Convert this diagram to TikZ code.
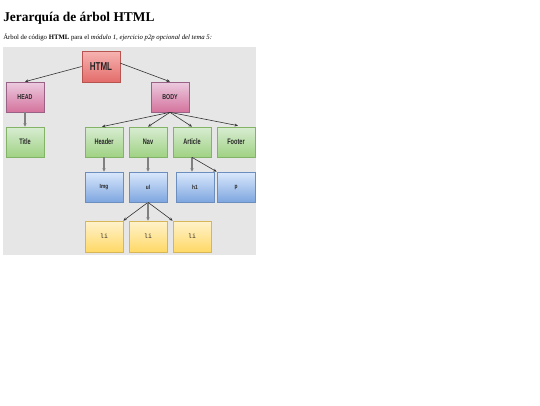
\documentclass[tikz,border=0pt]{standalone}
\usepackage{fontspec}
\setmainfont{Liberation Serif}
\setsansfont{Liberation Sans}
\setmonofont{Liberation Mono}
\usetikzlibrary{arrows.meta,calc}
\definecolor{bggray}{HTML}{E6E6E6}
\definecolor{redT}{HTML}{F6B4B2}\definecolor{redB}{HTML}{E36C6A}\definecolor{redD}{HTML}{B85450}
\definecolor{pinkT}{HTML}{EBCBDF}\definecolor{pinkB}{HTML}{D5739D}\definecolor{pinkD}{HTML}{996185}
\definecolor{grnT}{HTML}{D8ECD2}\definecolor{grnB}{HTML}{9FD283}\definecolor{grnD}{HTML}{82B366}
\definecolor{bluT}{HTML}{DAE8FC}\definecolor{bluB}{HTML}{7EA6E0}\definecolor{bluD}{HTML}{6C8EBF}
\definecolor{ylwT}{HTML}{FFF2CC}\definecolor{ylwB}{HTML}{FFD966}\definecolor{ylwD}{HTML}{D6B656}
\newcommand{\nlbl}[3]{\scalebox{#2}[1]{\fontsize{#1}{#1}\selectfont\sffamily\bfseries #3}}
\begin{document}
\begin{tikzpicture}[x=0.75pt,y=-0.75pt,
  boxbase/.style={draw, line width=0.5pt, inner sep=0pt, minimum width=28.5pt, minimum height=22.5pt, text=black!85},
  redbox/.style={boxbase, top color=redT, bottom color=redB, draw=redD, minimum height=23.25pt},
  pinkbox/.style={boxbase, top color=pinkT, bottom color=pinkB, draw=pinkD},
  grnbox/.style={boxbase, top color=grnT, bottom color=grnB, draw=grnD},
  blubox/.style={boxbase, top color=bluT, bottom color=bluB, draw=bluD},
  ylwbox/.style={boxbase, top color=ylwT, bottom color=ylwB, draw=ylwD, minimum height=23.25pt},
  darrow/.style={draw=black!80, line width=0.45pt, -{Stealth[length=2.6pt,width=2.2pt]}},
  garrow/.style={draw=black!50, line width=0.9pt, -{Stealth[length=2.6pt,width=2.6pt]}}]
\useasboundingbox (0,0) rectangle (540,405);
\fill[white] (0,0) rectangle (540,405);
\node[anchor=base west, inner sep=0pt, font=\fontsize{10.05pt}{12pt}\selectfont\bfseries] (heading) at (3,21.5) {Jerarquía de árbol HTML};
\node[anchor=base west, inner sep=0pt, font=\fontsize{5.06pt}{6pt}\selectfont] (intro) at (3,39) {Árbol de código \textbf{HTML} para el \textit{módulo 1, ejercicio p2p opcional del tema 5:}};
\fill[bggray] (3,47) rectangle (256,255);
% nodes
\node[redbox] (html) at (101,66.5) {\nlbl{8.6pt}{0.7}{HTML}};
\node[pinkbox] (head) at (25,97) {\nlbl{5.3pt}{0.75}{HEAD}};
\node[pinkbox] (body) at (170,97) {\nlbl{5.3pt}{0.75}{BODY}};
\node[grnbox] (title) at (25,142) {\nlbl{6pt}{0.7}{Title}};
\node[grnbox] (header) at (104,142) {\nlbl{6pt}{0.7}{Header}};
\node[grnbox] (nav) at (148,142) {\nlbl{6pt}{0.7}{Nav}};
\node[grnbox] (article) at (192,142) {\nlbl{6pt}{0.7}{Article}};
\node[grnbox] (footer) at (236,142) {\nlbl{6pt}{0.7}{Footer}};
\node[blubox] (img) at (104,187) {\nlbl{4.5pt}{0.8}{Img}};
\node[blubox] (ul) at (148,187) {\nlbl{4.5pt}{0.8}{ul}};
\node[blubox] (hone) at (195,187) {\nlbl{4.5pt}{0.8}{h1}};
\node[blubox] (p) at (236,187) {\nlbl{4.5pt}{0.8}{p}};
\node[ylwbox] (lia) at (104,236.5) {\fontsize{4.8pt}{5pt}\selectfont\ttfamily li};
\node[ylwbox] (lib) at (148,236.5) {\fontsize{4.8pt}{5pt}\selectfont\ttfamily li};
\node[ylwbox] (lic) at (192,236.5) {\fontsize{4.8pt}{5pt}\selectfont\ttfamily li};
% connectors
\draw[darrow] (html.west) -- (head.north);
\draw[darrow] ([yshift=2.5pt]html.east) -- (body.north);
\draw[garrow] (head.south) -- (title.north);
\draw[darrow] (body.south) -- ([xshift=-1.5pt]header.north);
\draw[darrow] (body.south) -- (nav.north);
\draw[darrow] (body.south) -- (article.north);
\draw[darrow] (body.south) -- ([xshift=1.5pt,yshift=0.75pt]footer.north);
\draw[garrow] (header.south) -- (img.north);
\draw[garrow] (nav.south) -- (ul.north);
\draw[garrow] (article.south) -- (article.south |- hone.north);
\draw[darrow] (article.south) -- (p.north west);
\draw[darrow] (ul.south) -- (lia.north east);
\draw[garrow] (ul.south) -- (lib.north);
\draw[darrow] (ul.south) -- (lic.north west);
\end{tikzpicture}
\end{document}
